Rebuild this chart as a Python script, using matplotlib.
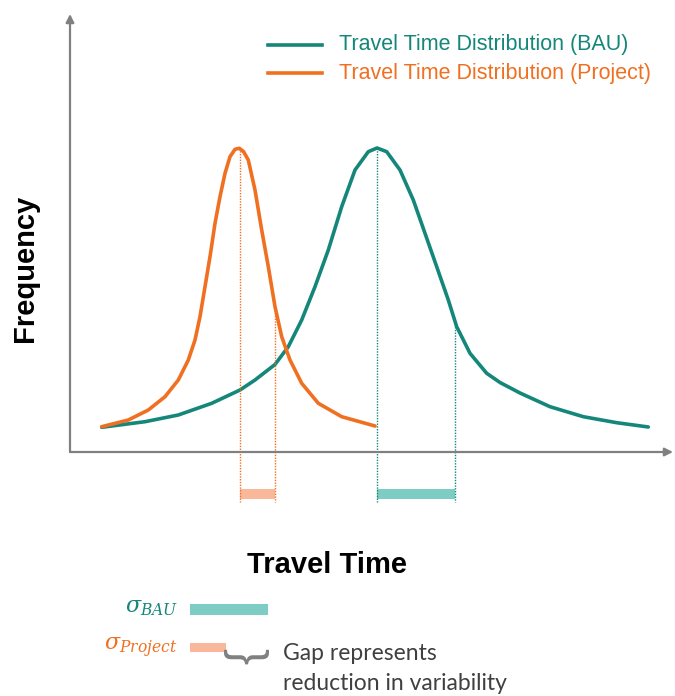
import numpy as np
import matplotlib.pyplot as plt

# travel time / frequency (arbitrary units)
bau_time = [3.17, 7.5, 10.83, 14.17, 17.0, 18.5, 20.5, 21.83, 23.17, 24.5, 25.83,
            27.17, 28.5, 29.83, 30.7, 31.67, 33.0, 34.33, 35.5, 36.67, 37.83, 38.67,
            40.0, 41.67, 43.0, 45.0, 48.0, 51.33, 54.67, 57.83]
bau_freq = [2.47, 3.03, 3.7, 4.87, 6.2, 7.2, 8.75, 10.53, 13.2, 16.53, 20.2,
            24.53, 28.2, 30.03, 30.4, 30.03, 28.2, 25.2, 21.87, 18.53, 15.2, 12.53,
            9.87, 7.87, 6.95, 5.9, 4.53, 3.53, 2.93, 2.5]
proj_time = [3.17, 5.83, 7.83, 9.5, 10.83, 11.83, 12.5, 13.0, 13.5, 14.0, 14.5,
             15.0, 15.5, 16.0, 16.5, 16.93, 17.35, 17.83, 18.5, 19.17, 19.83, 20.5,
             21.17, 22.0, 23.17, 24.83, 27.17, 30.5]
proj_freq = [2.53, 3.2, 4.2, 5.53, 7.2, 9.2, 11.2, 13.53, 16.53, 19.53, 22.87,
             25.53, 27.87, 29.53, 30.27, 30.37, 30.05, 29.2, 26.2, 22.2, 18.53, 14.53,
             11.53, 9.2, 6.87, 4.87, 3.53, 2.6]

bau_mean, bau_sd = 30.7, 7.8
proj_mean, proj_sd = 16.95, 3.55

labels = ['Travel Time Distribution (BAU)', 'Travel Time Distribution (Project)']

teal = '#14877a'
orange = '#f07022'
teal_lt = '#7dcdc4'
orange_lt = '#f9b899'
grey = '#808080'

plt.rcParams['mathtext.fontset'] = 'dejavuserif'

fig = plt.figure(figsize=(6.75, 6.96), dpi=100)
ax = fig.add_axes([0, 0, 1, 1])
ax.set_xlim(-7, 60.5)
ax.set_ylim(-24.4, 45.2)
ax.axis('off')

# axes arrows
ax.annotate('', xy=(60.3, 0), xytext=(0, 0), annotation_clip=False,
            arrowprops=dict(arrowstyle='-|>', color=grey, lw=1.6, mutation_scale=12,
                            shrinkA=0, shrinkB=0))
ax.annotate('', xy=(0, 43.8), xytext=(0, 0), annotation_clip=False,
            arrowprops=dict(arrowstyle='-|>', color=grey, lw=1.6, mutation_scale=12,
                            shrinkA=0, shrinkB=0))

ax.plot(bau_time, bau_freq, color=teal, lw=2.6, solid_capstyle='round',
        solid_joinstyle='round')
ax.plot(proj_time, proj_freq, color=orange, lw=2.6, solid_capstyle='round',
        solid_joinstyle='round')

# dotted drop lines at mean and mean + sd, with sd bars under the axis
for m, s, xs, ys, c, lc in [(bau_mean, bau_sd, bau_time, bau_freq, teal, teal_lt),
                            (proj_mean, proj_sd, proj_time, proj_freq, orange, orange_lt)]:
    for t in (m, m + s):
        ax.plot([t, t], [np.interp(t, xs, ys), -5.0], color=c, lw=1.0, ls=(0, (1, 1)))
    ax.bar(m, 1.0, width=s, bottom=-4.7, align='edge', color=lc)

# legend
ax.plot([19.8, 25.2], [40.7, 40.7], color=teal, lw=2.6)
ax.plot([19.8, 25.2], [37.9, 37.9], color=orange, lw=2.6)
ax.text(26.9, 40.7, labels[0], color=teal, fontsize=15.5, va='center',
        family='Liberation Sans')
ax.text(26.9, 37.9, labels[1], color=orange, fontsize=15.5, va='center',
        family='Liberation Sans')

ax.text(-4.5, 18.4, 'Frequency', rotation=90, fontsize=21, fontweight='bold',
        ha='center', va='center', family='Liberation Sans')
ax.text(25.7, -11.3, 'Travel Time', fontsize=21, fontweight='bold',
        ha='center', va='center', family='Liberation Sans')

# sigma key
ax.text(10.8, -15.6, r'$\sigma_{BAU}$', color=teal, fontsize=16, ha='right', va='center')
ax.text(10.8, -19.6, r'$\sigma_{Project}$', color=orange, fontsize=16, ha='right',
        va='center')
ax.bar(12.0, 1.1, width=bau_sd, bottom=-16.3, align='edge', color=teal_lt)
ax.bar(12.0, 0.9, width=proj_sd, bottom=-20.0, align='edge', color=orange_lt)
ax.text(17.5, -20.4, '}', rotation=-90, fontsize=35, color=grey,
        ha='center', va='center', family='Liberation Sans')
ax.text(21.3, -20.1, 'Gap represents', fontsize=16.5, va='center', color='#404040',
        family='Lato')
ax.text(21.3, -23.2, 'reduction in variability', fontsize=16.5, va='center',
        color='#404040', family='Lato')

fig.savefig('out.png', dpi=100)
